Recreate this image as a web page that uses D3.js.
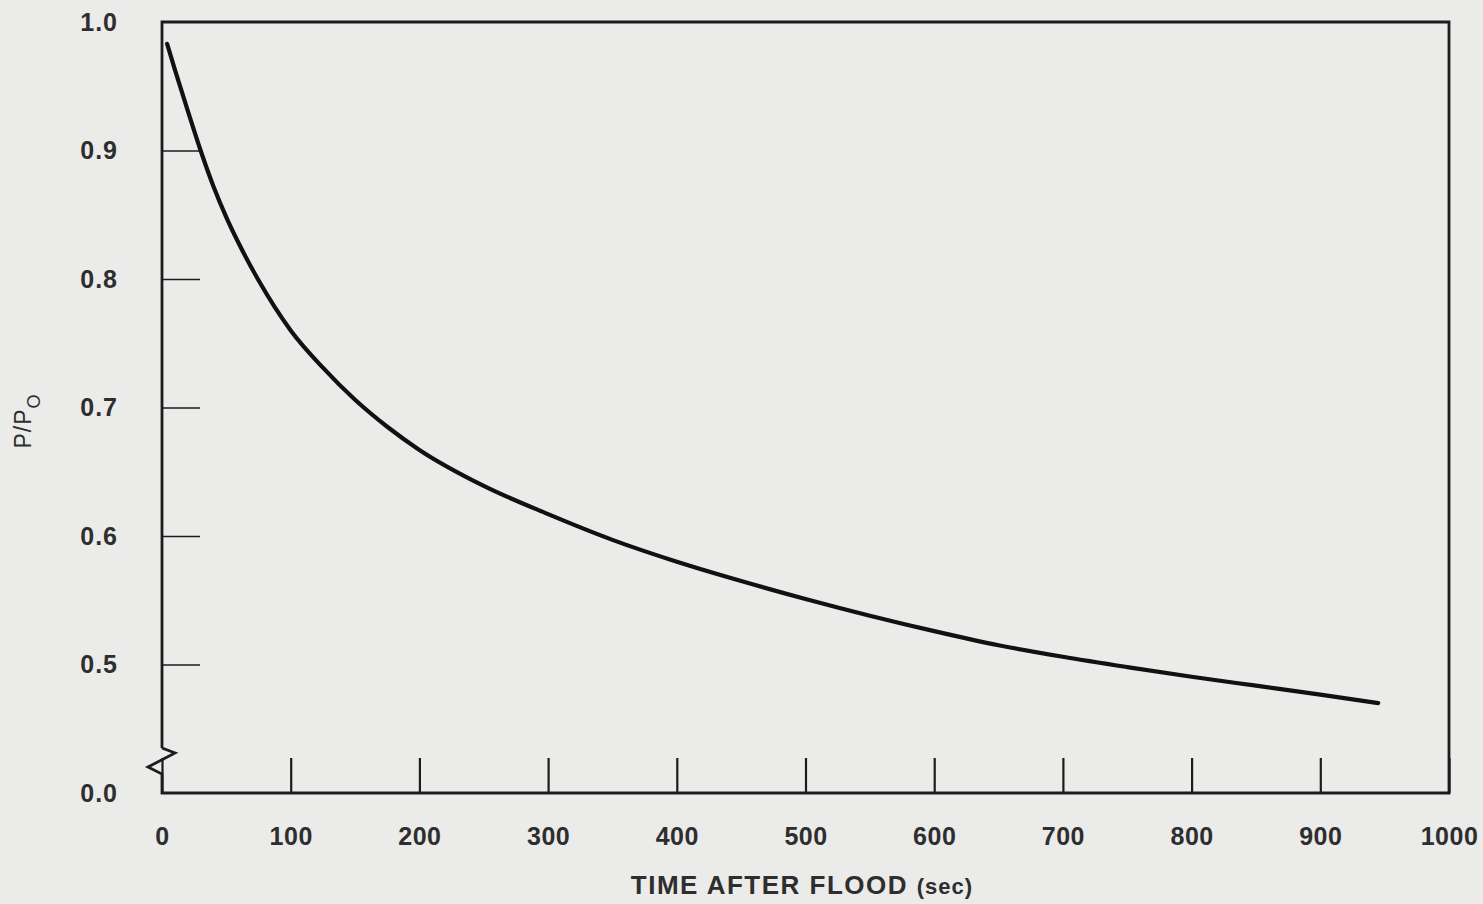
<!DOCTYPE html>
<html>
<head>
<meta charset="utf-8">
<script src="https://cdn.jsdelivr.net/npm/d3@7"></script>
<style>
  html, body { margin: 0; padding: 0; background: #ebebea; }
  svg { display: block; }
</style>
</head>
<body>
<svg id="chart" width="1483" height="904"></svg>
<script>
// ---- data ----
const timeSec = [4, 10, 20, 30, 40, 50, 60, 75, 100, 125, 150, 175, 200, 250, 300, 350, 400, 450, 500, 550, 600, 650, 700, 750, 800, 850, 900, 945];
const powerRatio = [0.983, 0.963, 0.931, 0.900, 0.872, 0.848, 0.827, 0.799, 0.760, 0.731, 0.706, 0.685, 0.667, 0.639, 0.617, 0.597, 0.580, 0.565, 0.551, 0.538, 0.526, 0.515, 0.506, 0.498, 0.4905, 0.4835, 0.4765, 0.470];
const xTickValues = [0, 100, 200, 300, 400, 500, 600, 700, 800, 900, 1000];
const yTickValues = [0.0, 0.5, 0.6, 0.7, 0.8, 0.9, 1.0];
const xTitle = "TIME AFTER FLOOD";
const xTitleUnit = "(sec)";

(function () {
const svg = d3.select("#chart");
const pLeft = 162, pRight = 1449, pTop = 22, pBottom = 793;
const ink = "#1c1c1c";
const textCol = "#2e2e2e";
const font = "'Liberation Sans', Arial, sans-serif";

const x = d3.scaleLinear().domain([0, 1000]).range([pLeft, pRight]);
// broken axis: the span 0.0–0.4 is collapsed at the bottom edge
const y = d3.scaleLinear().domain([0, 0.4, 1.0]).range([pBottom, pBottom, pTop]);

// x axis: ticks pointing up into the plot
const xAxis = svg.append("g")
  .attr("transform", `translate(0,${pBottom})`)
  .call(d3.axisBottom(x).tickValues(xTickValues).tickFormat(d3.format("d"))
        .tickSizeInner(-35).tickSizeOuter(0).tickPadding(34));
xAxis.select(".domain").remove();
xAxis.selectAll(".tick line").attr("stroke", ink).attr("stroke-width", 2.2);
xAxis.selectAll(".tick text")
  .attr("fill", textCol).style("font-family", font).style("font-size", "25px").style("font-weight", "bold")
  .style("letter-spacing", "0.5px");

// y axis: ticks pointing right into the plot
const yAxis = svg.append("g")
  .attr("transform", `translate(${pLeft},0)`)
  .call(d3.axisLeft(y).tickValues(yTickValues).tickFormat(d3.format(".1f"))
        .tickSizeInner(-38).tickSizeOuter(0).tickPadding(44));
yAxis.select(".domain").remove();
yAxis.selectAll(".tick line").attr("stroke", ink).attr("stroke-width", 1.6)
  .filter(d => d === 0 || d === 1).remove();
yAxis.selectAll(".tick text")
  .attr("fill", textCol).style("font-family", font).style("font-size", "25px").style("font-weight", "bold")
  .style("letter-spacing", "1px");

// frame: top, right, bottom, and left with a break zigzag
svg.append("path")
  .attr("d", `M${pLeft},748 L${pLeft},${pTop} L${pRight},${pTop} L${pRight},${pBottom} L${pLeft},${pBottom} L${pLeft},774 L148,767 L175,753 L${pLeft},748`)
  .attr("fill", "none").attr("stroke", ink).attr("stroke-width", 2.8).attr("stroke-linejoin", "miter");

// curve
const pts = timeSec.map((t, i) => [t, powerRatio[i]]);
svg.append("path")
  .datum(pts)
  .attr("d", d3.line().x(d => x(d[0])).y(d => y(d[1])).curve(d3.curveMonotoneX))
  .attr("fill", "none").attr("stroke", "#111").attr("stroke-width", 4.2)
  .attr("stroke-linecap", "round").attr("stroke-linejoin", "round");

// x title
const xt = svg.append("text")
  .attr("x", 802).attr("y", 894)
  .attr("text-anchor", "middle")
  .attr("fill", textCol).style("font-family", font).style("font-weight", "bold");
xt.append("tspan").style("font-size", "26px").style("letter-spacing", "1.5px").text(xTitle + " ");
xt.append("tspan").style("font-size", "22px").style("letter-spacing", "1px").text(xTitleUnit);

// y title P/P_O
const yt = svg.append("text")
  .attr("transform", "translate(31,421) rotate(-90)")
  .attr("text-anchor", "middle")
  .attr("fill", textCol).style("font-family", font).style("font-size", "23px").style("letter-spacing", "1px");
yt.append("tspan").text("P/P");
yt.append("tspan").attr("dy", 9).style("font-size", "18px").text("O");
})();
</script>
</body>
</html>
